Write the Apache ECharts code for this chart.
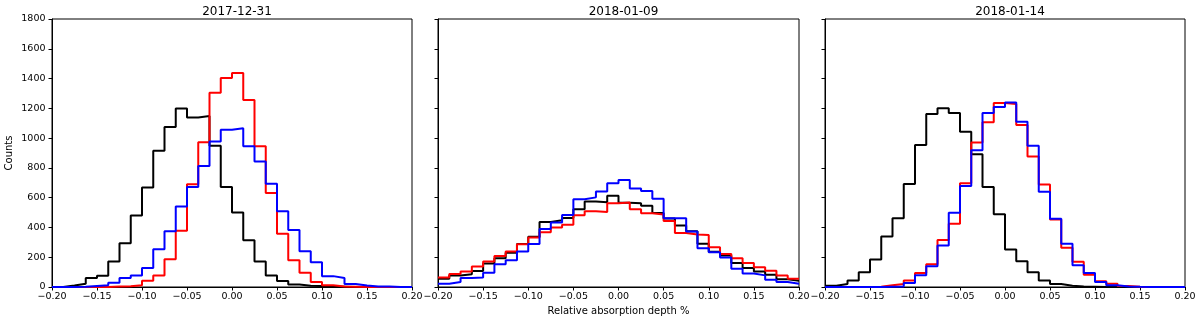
<!DOCTYPE html>
<html>
<head>
<meta charset="utf-8">
<script src="https://cdn.jsdelivr.net/npm/echarts@6/dist/echarts.min.js"></script>
<style>
  html, body { margin: 0; padding: 0; background: #fff; }
  #e-charts { width: 1200px; height: 323px; }
</style>
</head>
<body>
<div id="e-charts"></div>
<script type="text/javascript">
// bin edges (0.0125 wide) shared by all three panels
var binEdges = [-0.2, -0.1875, -0.175, -0.1625, -0.15, -0.1375, -0.125, -0.1125,
  -0.1, -0.0875, -0.075, -0.0625, -0.05, -0.0375, -0.025, -0.0125,
  0, 0.0125, 0.025, 0.0375, 0.05, 0.0625, 0.075, 0.0875,
  0.1, 0.1125, 0.125, 0.1375, 0.15, 0.1625, 0.175, 0.1875, 0.2];
var titles = ['2017-12-31', '2018-01-09', '2018-01-14'];

// 2017-12-31
var black1 = [0, 10, 22, 60, 76, 172, 294, 480, 668, 915, 1074, 1199, 1139, 1148, 948, 672,
  500, 314, 172, 78, 40, 16, 9, 7, 2, 1, 0, 0, 0, 0, 0, 0];
var red1 = [0, 0, 0, 0, 0, 4, 5, 11, 42, 77, 186, 378, 690, 972, 1305, 1404,
  1438, 1256, 946, 632, 357, 179, 95, 34, 11, 4, 2, 0, 0, 0, 0, 0];
var blue1 = [0, 0, 2, 7, 11, 28, 60, 77, 128, 253, 374, 540, 672, 812, 978, 1056,
  1067, 945, 843, 694, 509, 382, 240, 167, 73, 61, 20, 10, 4, 4, 0, 0];

// 2018-01-09
var black2 = [55, 78, 86, 107, 158, 193, 230, 289, 338, 437, 448, 463, 523, 574, 569, 613,
  566, 563, 546, 497, 460, 413, 374, 290, 236, 211, 162, 128, 104, 83, 52, 42];
var red2 = [64, 87, 104, 138, 171, 209, 238, 287, 333, 367, 400, 418, 482, 509, 504, 562,
  567, 522, 496, 487, 444, 362, 352, 350, 267, 222, 193, 162, 133, 109, 78, 56];
var blue2 = [22, 33, 60, 64, 96, 153, 180, 238, 289, 389, 433, 484, 589, 602, 642, 696,
  718, 662, 644, 593, 462, 462, 373, 260, 233, 198, 122, 91, 78, 49, 33, 22];

// 2018-01-14
var black3 = [9, 20, 43, 99, 184, 339, 461, 692, 953, 1162, 1200, 1168, 1043, 892, 672, 488,
  252, 173, 99, 43, 20, 9, 4, 2, 0, 0, 0, 0, 0, 0, 0, 0];
var red3 = [0, 0, 0, 0, 1, 11, 20, 43, 94, 153, 315, 425, 697, 971, 1106, 1236,
  1229, 1088, 876, 688, 454, 263, 169, 83, 38, 22, 7, 2, 0, 0, 0, 0];
var blue3 = [0, 0, 0, 0, 0, 2, 4, 27, 79, 139, 279, 499, 679, 918, 1168, 1209,
  1240, 1110, 948, 640, 458, 290, 146, 94, 34, 11, 4, 1, 0, 0, 0, 0];

var panels = [
  {left: 52, width: 360, black: black1, red: red1, blue: blue1},
  {left: 438, width: 361, black: black2, red: red2, blue: blue2},
  {left: 825, width: 360, black: black3, red: red3, blue: blue3}
];

var FONT = 'DejaVu Sans';

// step outline: one point per left edge, last value carried to the right edge
function stepData(counts) {
  return binEdges.map(function (e, i) {
    return [e, counts[Math.min(i, counts.length - 1)]];
  });
}

function fmtTick(v) {
  return v.toFixed(2).replace('-', '\u2212');
}

var myChart = echarts.init(document.getElementById('e-charts'), null, {renderer: 'canvas'});

var option = {
  animation: false,
  backgroundColor: '#fff',
  title: [],
  grid: [],
  xAxis: [],
  yAxis: [],
  series: []
};

panels.forEach(function (p, k) {
  option.title.push({
    text: titles[k],
    left: p.left + p.width / 2,
    top: 1,
    textAlign: 'center',
    textStyle: {fontFamily: FONT, fontSize: 12, fontWeight: 'normal', color: '#000'}
  });
  option.grid.push({
    left: p.left, top: 19, width: p.width, height: 268,
    show: true, borderColor: '#000', borderWidth: 1
  });
  option.xAxis.push({
    type: 'value', gridIndex: k,
    min: -0.2, max: 0.2, interval: 0.05,
    name: k === 1 ? 'Relative absorption depth %' : '',
    nameLocation: 'middle', nameGap: 19,
    nameTextStyle: {fontFamily: FONT, fontSize: 10, color: '#000'},
    axisLine: {show: true, onZero: false, lineStyle: {color: '#000', width: 1}},
    axisTick: {show: true, length: 3.5, lineStyle: {color: '#000'}},
    axisLabel: {
      margin: 5, fontFamily: FONT, fontSize: 9.5, color: '#000',
      showMinLabel: true, showMaxLabel: true,
      formatter: function (v) { return fmtTick(v); }
    },
    splitLine: {show: false}
  });
  option.yAxis.push({
    type: 'value', gridIndex: k,
    min: 0, max: 1800, interval: 200,
    name: k === 0 ? 'Counts' : '',
    nameLocation: 'middle', nameGap: 38, nameRotate: 90,
    nameTextStyle: {fontFamily: FONT, fontSize: 10, color: '#000'},
    axisLine: {show: true, onZero: false, lineStyle: {color: '#000', width: 1}},
    axisTick: {show: true, length: 3.5, lineStyle: {color: '#000'}},
    axisLabel: {
      show: k === 0, margin: 6.5, fontFamily: FONT, fontSize: 9.5, color: '#000',
      formatter: function (v) { return String(v); }
    },
    splitLine: {show: false}
  });
  [['black', '#000000'], ['red', '#ff0000'], ['blue', '#0000ff']].forEach(function (c) {
    option.series.push({
      type: 'line',
      name: titles[k] + ' ' + c[0],
      xAxisIndex: k, yAxisIndex: k,
      step: 'end',
      showSymbol: false,
      silent: true,
      clip: true,
      data: stepData(p[c[0]]),
      lineStyle: {color: c[1], width: 2}
    });
  });
});

myChart.setOption(option);
</script>
</body>
</html>
